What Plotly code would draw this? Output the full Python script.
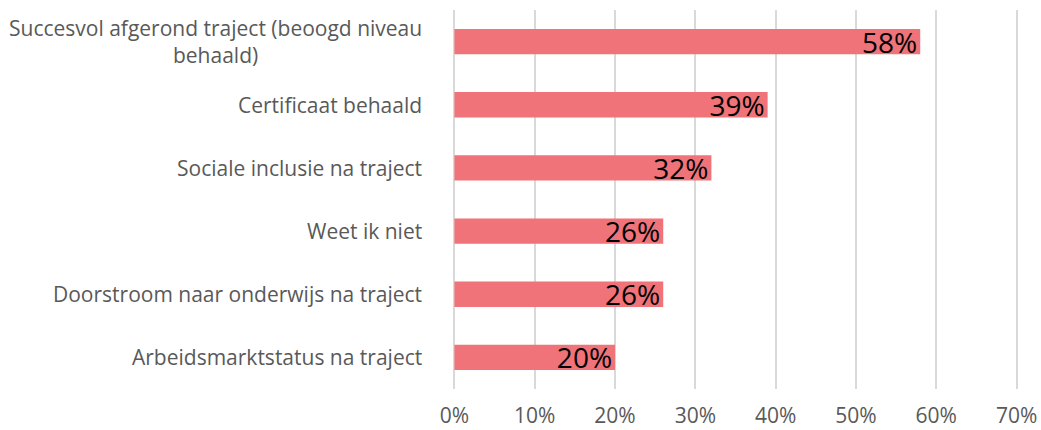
import plotly.graph_objects as go

categories = [
    "Succesvol afgerond traject (beoogd niveau<br>behaald)",
    "Certificaat behaald",
    "Sociale inclusie na traject",
    "Weet ik niet",
    "Doorstroom naar onderwijs na traject",
    "Arbeidsmarktstatus na traject",
]
values = [58, 39, 32, 26, 26, 20]
tick_vals = [0, 10, 20, 30, 40, 50, 60, 70]
tick_text = [f"{v}%" for v in tick_vals]

bar_color = "#EF7378"
label_grey = "#595959"
font_family = "Open Sans, Liberation Sans, sans-serif"

fig = go.Figure(
    go.Bar(
        x=values,
        y=categories,
        orientation="h",
        marker=dict(color=bar_color, line=dict(width=0)),
        text=[f"{v}%" for v in values],
        textposition="inside",
        insidetextanchor="end",
        constraintext="none",
        textfont=dict(family=font_family, size=28, color="black"),
        hoverinfo="skip",
    )
)

# Category labels as annotations so the wrapped label stays centred
annotations = [
    dict(
        x=0, xref="paper", y=c, yref="y",
        text=c, showarrow=False,
        xanchor="right", align="center", xshift=-28,
        font=dict(family=font_family, size=21, color=label_grey),
    )
    for c in categories
]

fig.update_layout(
    width=1041,
    height=430,
    margin=dict(l=452, r=22, t=10, b=41, autoexpand=False),
    paper_bgcolor="white",
    plot_bgcolor="white",
    bargap=0.6,
    showlegend=False,
    annotations=annotations,
    xaxis=dict(
        range=[-0.3, 70.3],
        tickvals=tick_vals,
        ticktext=tick_text,
        showgrid=True,
        gridcolor="#D9D9D9",
        gridwidth=1.5,
        zeroline=False,
        showline=False,
        ticks="",
        automargin=False,
        ticklabelstandoff=12,
        tickfont=dict(family=font_family, size=21, color=label_grey),
    ),
    yaxis=dict(
        categoryorder="array",
        categoryarray=categories[::-1],
        showticklabels=False,
        showgrid=False,
        zeroline=False,
        showline=False,
        ticks="",
        automargin=False,
    ),
)

fig.write_html("out.html")
